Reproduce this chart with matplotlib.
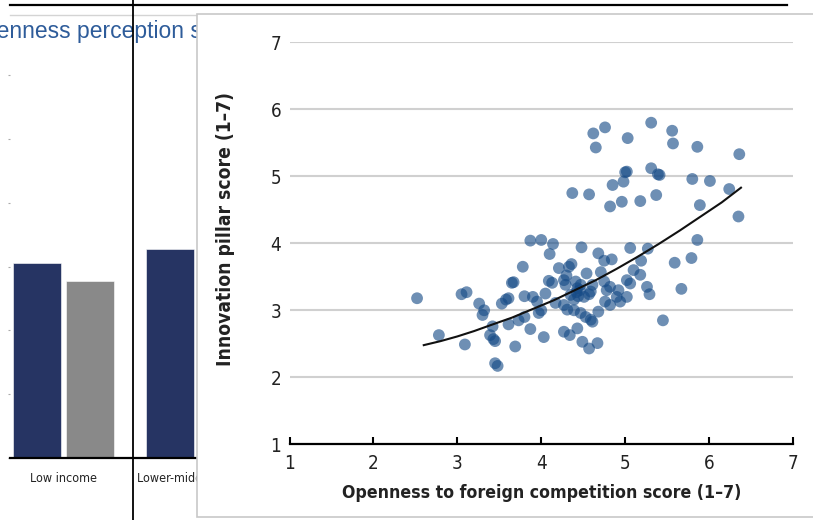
import matplotlib
matplotlib.use("Agg")
import matplotlib.pyplot as plt
from matplotlib.patches import Rectangle
from matplotlib.lines import Line2D

W, H = 813, 520

NAVY = "#263463"
GREY_BAR = "#898989"
DOT = "#154a86"
GRID = "#d0d0d0"
FRAME = "#c8c8c8"
TEXT = "#222222"
TITLE_BLUE = "#2e5c9a"

NARROW = dict(family="DejaVu Sans", stretch="condensed")

# background bar chart (mostly hidden behind the panel)
income_groups = ["Low income", "Lower-middle income"]
bar_dark = [3.06, 3.28]
bar_grey = [2.78, 2.95]

# scatter data
openness = [
    2.52, 2.78, 3.05, 3.11, 3.09, 3.26, 3.32, 3.30, 3.42, 3.39, 3.43, 3.45,
    3.45, 3.48, 3.53, 3.58, 3.61, 3.65, 3.67, 3.61, 3.69, 3.73, 3.80, 3.78,
    3.80, 3.87, 4.00, 4.14, 4.10, 3.87, 3.90, 3.95, 3.97, 4.00, 4.03, 4.05,
    4.09, 4.13, 4.21, 4.17, 4.27, 4.31, 4.27, 4.29, 4.30, 4.33, 4.36, 4.27,
    4.34, 4.35, 4.39, 4.51, 4.41, 4.47, 4.43, 4.61, 4.59, 4.48, 4.54, 4.43,
    4.49, 4.57, 4.67, 4.39, 4.47, 4.53, 4.59, 4.61, 4.68, 4.57, 4.42, 4.46,
    4.44, 4.76, 4.82, 4.94, 4.68, 4.75, 4.84, 4.71, 4.75, 4.82, 4.78, 4.92,
    4.90, 5.02, 5.02, 5.06, 5.10, 5.18, 5.06, 5.19, 5.27, 5.26, 5.29, 5.45,
    5.59, 5.67, 5.79, 5.86,
    4.37, 4.57, 4.82, 4.96, 5.18, 4.85, 4.98, 5.00, 5.02, 5.31, 5.39, 5.41,
    5.37, 5.80, 6.01, 5.89, 6.24, 6.36, 6.35,
    4.62, 4.76, 4.65, 5.03, 5.31, 5.56, 5.57, 5.86,
]
innovation = [
    3.18, 2.63, 3.24, 3.27, 2.49, 3.10, 3.00, 2.93, 2.76, 2.63, 2.57, 2.54,
    2.21, 2.17, 3.10, 3.16, 3.18, 3.41, 3.42, 2.79, 2.46, 2.85, 2.90, 3.65,
    3.21, 4.04, 4.05, 3.99, 3.84, 2.72, 3.20, 3.13, 2.96, 3.00, 2.60, 3.25,
    3.44, 3.41, 3.63, 3.11, 3.08, 3.01, 3.45, 3.38, 3.52, 3.65, 3.69, 2.68,
    2.63, 3.23, 3.16, 3.20, 3.43, 3.38, 3.33, 3.38, 3.28, 3.94, 3.55, 2.73,
    2.53, 2.43, 2.51, 3.00, 2.96, 2.90, 2.86, 2.83, 2.98, 3.24, 3.27, 3.30,
    3.21, 3.13, 3.08, 3.13, 3.85, 3.74, 3.76, 3.57, 3.43, 3.35, 3.30, 3.30,
    3.20, 3.20, 3.45, 3.40, 3.60, 3.53, 3.93, 3.74, 3.92, 3.35, 3.24, 2.85,
    3.71, 3.32, 3.78, 4.05,
    4.75, 4.73, 4.55, 4.62, 4.63, 4.87, 4.92, 5.06, 5.07, 5.12, 5.03, 5.02,
    4.72, 4.96, 4.93, 4.57, 4.81, 5.33, 4.40,
    5.64, 5.73, 5.43, 5.57, 5.80, 5.68, 5.49, 5.44,
]

# trend curve
trend_x = [2.6, 2.8, 3.0, 3.2, 3.4, 3.65, 3.9, 4.15, 4.4, 4.65, 4.9, 5.15,
           5.4, 5.65, 5.9, 6.15, 6.38]
trend_y = [2.48, 2.54, 2.61, 2.69, 2.78, 2.89, 3.02, 3.15, 3.30, 3.45, 3.62,
           3.80, 3.99, 4.19, 4.40, 4.61, 4.83]

x_ticks = [1, 2, 3, 4, 5, 6, 7]
y_ticks = [1, 2, 3, 4, 5, 6, 7]


def px_box(left, top, right, bottom):
    return [left / W, 1 - bottom / H, (right - left) / W, (bottom - top) / H]


fig = plt.figure(figsize=(W / 100, H / 100), dpi=100, facecolor="white")

# bar chart behind
axb = fig.add_axes(px_box(10, 43, 400, 457.7))
axb.set_zorder(0)
pos = list(range(len(income_groups)))
axb.bar([p - 0.201 for p in pos], bar_dark, width=0.36, color=NAVY,
        edgecolor="white", linewidth=0.4)
axb.bar([p + 0.201 for p in pos], bar_grey, width=0.36, color=GREY_BAR,
        edgecolor="white", linewidth=0.4)
axb.set_xlim(-0.404, 2.53)
axb.set_ylim(0, 6.51)
axb.set_yticks(range(0, 7))
axb.set_yticklabels([])
axb.tick_params(axis="y", length=1.5, color="#aaaaaa", width=0.8)
axb.set_xticks(pos)
axb.set_xticklabels(income_groups, fontsize=9, color=TEXT, **NARROW)
axb.tick_params(axis="x", length=0, pad=10)
for s in ["top", "right", "left"]:
    axb.spines[s].set_visible(False)
axb.spines["bottom"].set_color("black")
axb.spines["bottom"].set_linewidth(1.6)

# clipped blue heading
fig.text(-34 / W, 1 - 38 / H, "Openness perception scores", fontsize=16.5,
         color=TITLE_BLUE, family="Liberation Sans", va="baseline", zorder=0.5)

# thin grey frame line
fig.add_artist(Line2D([10 / W, 197 / W], [1 - 15 / H] * 2, color="#d4d4d4",
                      lw=1.0, zorder=0.6))

# white panel
fig.add_artist(Rectangle((196.5 / W, 1 - 517 / H), 1.0, (517 - 14) / H,
                         transform=fig.transFigure, facecolor="white",
                         edgecolor=FRAME, lw=1.2, zorder=1))

# black rules
fig.add_artist(Line2D([10 / W, 787 / W], [1 - 5 / H] * 2, color="black",
                      lw=1.6, zorder=5))
fig.add_artist(Line2D([133 / W, 133 / W], [0, 1], color="black",
                      lw=1.3, zorder=5))

# scatter panel
ax = fig.add_axes(px_box(289.5, 42.3, 793, 444.3))
ax.set_zorder(2)
ax.patch.set_alpha(0)
ax.set_xlim(1, 7)
ax.set_ylim(1, 7)
for yv in y_ticks[1:]:
    ax.axhline(yv, color=GRID, lw=1.5, zorder=1)
ax.scatter(openness, innovation, s=72, color=DOT, alpha=0.62,
           edgecolors="none", zorder=2)
ax.plot(trend_x, trend_y, color="#111111", lw=1.5, zorder=3)

ax.set_xticks(x_ticks)
ax.set_yticks(y_ticks)
ax.set_xticklabels([str(v) for v in x_ticks], fontsize=13.5, color=TEXT,
                   **NARROW)
ax.set_yticklabels([str(v) for v in y_ticks], fontsize=13.5, color=TEXT,
                   **NARROW)
ax.tick_params(axis="x", direction="in", length=5, width=1.5, color="black",
               pad=7)
ax.tick_params(axis="y", length=0, pad=6)
for s in ["top", "right", "left"]:
    ax.spines[s].set_visible(False)
ax.spines["bottom"].set_linewidth(1.6)
ax.spines["bottom"].set_color("black")

ax.set_xlabel("Openness to foreign competition score (1\u20137)",
              fontsize=12.7, fontweight="bold", color=TEXT, labelpad=8,
              **NARROW)
ax.set_ylabel("Innovation pillar score (1\u20137)", fontsize=13.8,
              fontweight="bold", color=TEXT, **NARROW)
ax.yaxis.set_label_coords(-0.108, 0.535)

fig.savefig("out.png", dpi=100, facecolor="white")
